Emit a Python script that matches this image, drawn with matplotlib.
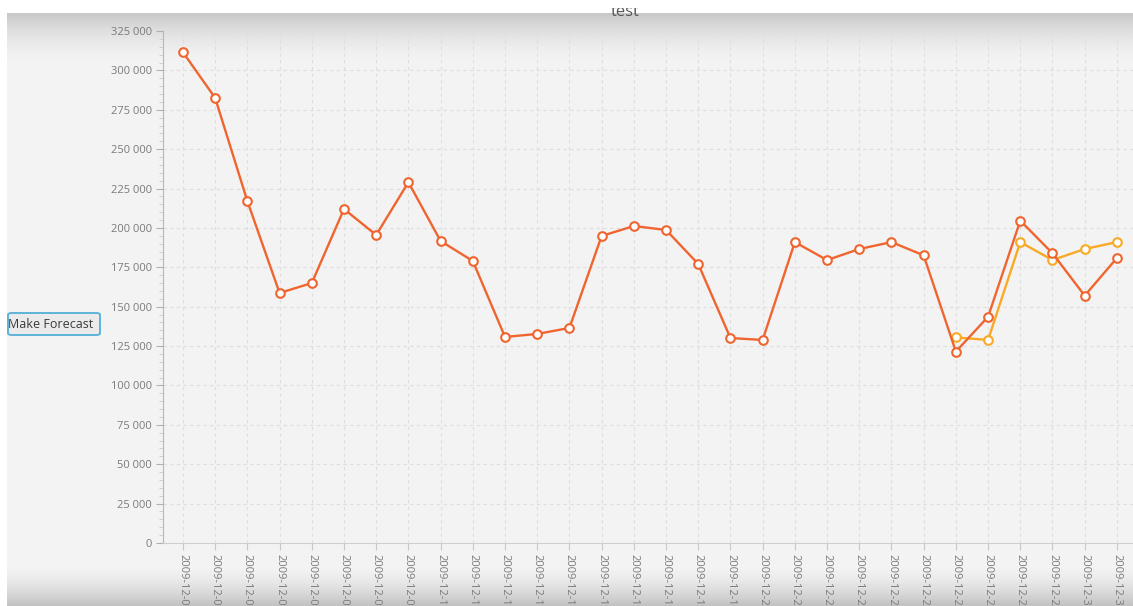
import numpy as np
import matplotlib
matplotlib.use("Agg")
import matplotlib.pyplot as plt
from matplotlib.patches import FancyBboxPatch, Rectangle
from matplotlib.ticker import MultipleLocator, FuncFormatter

# dates 2009-12-02 .. 2009-12-31
dates = ["2009-12-%02d" % d for d in range(2, 32)]

actual = [311500, 282500, 217000, 158700, 165000, 212000, 195500, 229000,
          191700, 179000, 130800, 132700, 136500, 194900, 201200, 198700,
          177100, 130100, 128900, 191000, 179600, 186600, 191000, 182600,
          121500, 143600, 204600, 183900, 157000, 180900]

forecast_dates = dates[24:]
forecast = [130500, 128900, 191000, 179600, 186600, 191000]

W, H = 1133, 606
plt.rcParams['font.family'] = ['Open Sans', 'DejaVu Sans']

fig = plt.figure(figsize=(W / 100, H / 100), dpi=100)

# window background: white margin, gray shaded top / bottom edges
bg = fig.add_axes([0, 0, 1, 1], zorder=-5)
base = 0.957
img = np.full((H, W), base)
rows = np.arange(H)
top = (rows >= 13) & (rows < 75)
t = (rows[top] - 13) / 62.0
img[top, :] = (0.78 + (base - 0.78) * (1 - (1 - t) ** 2.2))[:, None]
bot = rows >= 560
b = (rows[bot] - 560) / 46.0
img[bot, :] = (base - (base - 0.75) * b ** 1.8)[:, None]
img[:13, :] = 1.0
img[:, :7] = 1.0
bg.imshow(img, cmap='gray', vmin=0, vmax=1, aspect='auto', extent=[0, W, H, 0])
bg.set_xlim(0, W)
bg.set_ylim(H, 0)
bg.axis('off')

# plot area in pixels
x0, x1 = 163, 1133
y_top, y_bot = 31, 543
ax = fig.add_axes([x0 / W, 1 - y_bot / H, (x1 - x0) / W, (y_bot - y_top) / H])
ax.patch.set_alpha(0)

xs = np.arange(len(dates))
fx = np.arange(24, 24 + len(forecast))

ax.plot(xs, actual, color='#f0652f', lw=1.7, marker='o', ms=6.2,
        mfc='white', mec='#f0652f', mew=1.5, zorder=3)
ax.plot(fx, forecast, color='#f9aa25', lw=1.7, marker='o', ms=6.2,
        mfc='white', mec='#f9aa25', mew=1.5, zorder=2)

ax.set_xlim(-0.62, 29.5)
ax.set_ylim(0, 325000)

ax.yaxis.set_major_locator(MultipleLocator(25000))
ax.yaxis.set_minor_locator(MultipleLocator(5000))
ax.yaxis.set_major_formatter(FuncFormatter(lambda v, p: f"{int(v):,}".replace(",", " ")))
ax.set_xticks(xs)
ax.set_xticklabels(dates, rotation=-90, va='top', ha='center')

ax.tick_params(axis='y', which='major', length=5, width=0.8, color='#b0b0b0',
               labelsize=8, labelcolor='#7a7a7a', pad=3)
ax.tick_params(axis='y', which='minor', length=3, width=0.6, color='#c8c8c8')
ax.tick_params(axis='x', length=5, width=0.8, color='#c8c8c8',
               labelsize=8, labelcolor='#7a7a7a', pad=3)

ax.grid(True, which='major', color='#dedede', ls=(0, (3, 3)), lw=0.8)
ax.set_axisbelow(True)

for s in ['top', 'right']:
    ax.spines[s].set_visible(False)
ax.spines['left'].set_color('#b8b8b8')
ax.spines['bottom'].set_color('#cfcfcf')

# title, partly hidden under the white strip at the top
fig.text(625 / W, 1 - 12 / H, "test", ha='center', va='center',
         fontsize=12, color='#555555')
fig.patches.append(Rectangle((0, 1 - 8 / H), 1, 8 / H, transform=fig.transFigure,
                             fc='white', ec='none', zorder=10))

# button
btn = FancyBboxPatch((8 / W, 1 - 335 / H), 92 / W, 22 / H,
                     boxstyle="round,pad=0,rounding_size=0.003",
                     transform=fig.transFigure, fc='#ebebeb', ec='#5fb3d9', lw=1.4)
fig.patches.append(btn)
fig.text(51 / W, 1 - 324 / H, "Make Forecast", ha='center', va='center',
         fontsize=9, color='#3a3a3a')

fig.savefig("out.png", dpi=100)
